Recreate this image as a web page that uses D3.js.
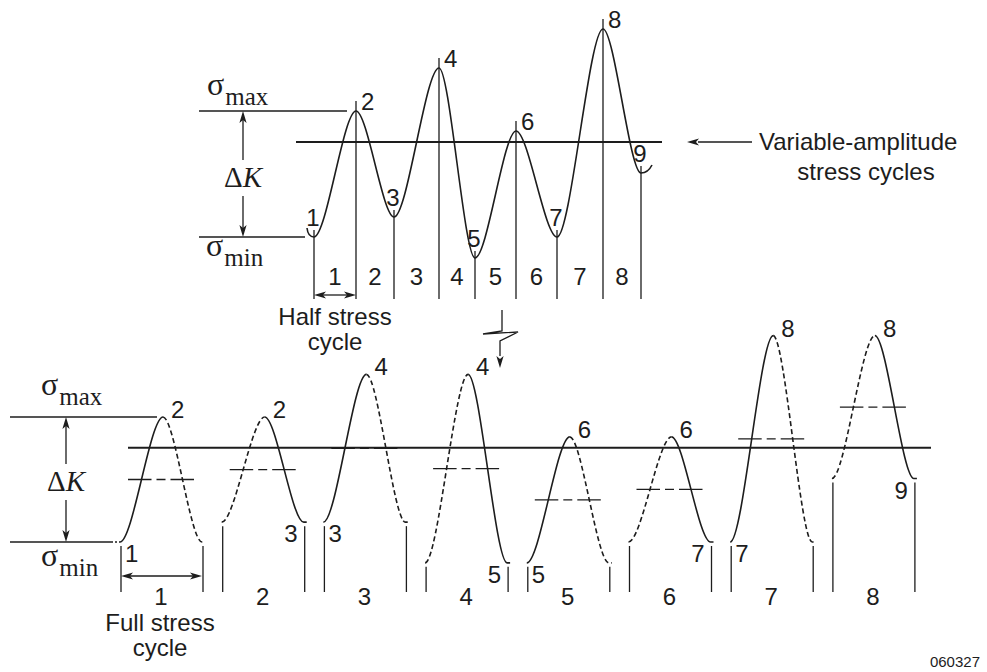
<!DOCTYPE html>
<html><head><meta charset="utf-8">
<script src="https://cdn.jsdelivr.net/npm/d3@7"></script>
<style>html,body{margin:0;padding:0;background:#fff}svg{display:block}</style>
</head><body>
<svg id="chart" width="987" height="672"></svg>
<script>
// ---------------- data ----------------
const pointLabels = ["1","2","3","4","5","6","7","8","9"];
const stressLevels = [100, 226, 120, 269, 79, 206, 100, 308, 164];   // stress at reversal points
const pointTimes = [0, 42, 80, 125, 161, 202, 243, 289, 327];          // time of reversal points
const meanStress = 195;
const sigmaMaxValue = 226;
const sigmaMinValue = 100;
const halfCycleLabels = ["1","2","3","4","5","6","7","8"];
const fullCycleLabels = ["1","2","3","4","5","6","7","8"];

// ---------------- setup ----------------
const svg = d3.select("#chart");
const INK = "#1d1d1d";
const SANS = "'Liberation Sans', Arial, Helvetica, sans-serif";
const SERIF = "'Liberation Serif', 'Times New Roman', Times, serif";
const FS = 24;

const xTop = d3.scaleLinear().domain([0, 327]).range([314, 641]);
const yTop = d3.scaleLinear().domain([sigmaMinValue, sigmaMaxValue]).range([237, 111]);
const yBot = d3.scaleLinear().domain([sigmaMinValue, sigmaMaxValue]).range([542, 417]);
const band = d3.scaleBand().domain(fullCycleLabels).range([120, 933.6]);

function seg(p, x0, y0, x1, y1, k = 0.3) {
  const dx = x1 - x0;
  p.bezierCurveTo(x0 + k * dx, y0, x1 - k * dx, y1, x1, y1);
}
function line(x1, y1, x2, y2, w = 1.3, dash = null) {
  const l = svg.append("line").attr("x1", x1).attr("y1", y1).attr("x2", x2).attr("y2", y2)
    .attr("stroke", INK).attr("stroke-width", w);
  if (dash) l.attr("stroke-dasharray", dash);
  return l;
}
function head(x, y, dir) { // tip at x,y
  const L = 12, H = 3.6;
  const c = Math.cos(dir), s = Math.sin(dir);
  const bx = x - L * c, by = y - L * s;
  const p = d3.path();
  p.moveTo(x, y);
  p.lineTo(bx - H * s, by + H * c);
  p.lineTo(bx + 3 * c, by + 3 * s);
  p.lineTo(bx + H * s, by - H * c);
  p.closePath();
  svg.append("path").attr("d", p.toString()).attr("fill", INK);
}
function text(str, x, y, anchor = "middle", size = FS, fam = SANS) {
  return svg.append("text").attr("x", x).attr("y", y).attr("text-anchor", anchor)
    .attr("font-family", fam).attr("font-size", size).attr("fill", INK).text(str);
}
function text2(lines, x, y, dy, anchor = "middle") {
  const t = svg.append("text").attr("x", x).attr("y", y).attr("text-anchor", anchor)
    .attr("font-family", SANS).attr("font-size", FS).attr("fill", INK);
  lines.forEach((s, i) => t.append("tspan").attr("x", x).attr("dy", i ? dy : 0).text(s));
  return t;
}
function sigma(x, y, sub) {
  const t = svg.append("text").attr("x", x).attr("y", y).attr("font-family", SERIF).attr("fill", INK);
  t.append("tspan").attr("font-size", 32).text("σ");
  t.append("tspan").attr("font-size", 25).attr("dy", 10).attr("dx", 1).text(sub);
}
function deltaK(x, yTopV, yBotV, yText) {
  line(x, yTopV + 8, x, yText - 27, 1.3);
  line(x, yText + 9, x, yBotV - 8, 1.3);
  head(x, yTopV, -Math.PI / 2);
  head(x, yBotV, Math.PI / 2);
  const t = svg.append("text").attr("x", x).attr("y", yText).attr("text-anchor", "middle")
    .attr("font-family", SERIF).attr("font-size", 29).attr("fill", INK);
  t.append("tspan").text("Δ");
  t.append("tspan").attr("font-style", "italic").text("K");
}
function doubleArrow(x1, x2, y) {
  line(x1 + 6, y, x2 - 6, y, 1.3);
  head(x1, y, Math.PI);
  head(x2, y, 0);
}

// ---------------- top panel: variable amplitude ----------------
const X = i => xTop(pointTimes[i]);
const Y = i => yTop(stressLevels[i]);
const lineBottomTop = 299;

line(199, yTop(sigmaMaxValue), X(1) - 9, yTop(sigmaMaxValue));
line(199, yTop(sigmaMinValue), X(0) - 9, yTop(sigmaMinValue));
line(296, yTop(meanStress), 662, yTop(meanStress), 1.9);

pointLabels.forEach((lab, i) => {
  const peak = i % 2 === 1;
  line(X(i), Y(i) - (peak ? 10 : 7), X(i), lineBottomTop, 1.3);
});

{
  const p = d3.path();
  p.moveTo(X(0) - 7, Y(0) - 9);
  p.quadraticCurveTo(X(0) - 6, Y(0), X(0), Y(0));
  for (let i = 1; i < stressLevels.length; i++) seg(p, X(i - 1), Y(i - 1), X(i), Y(i));
  const n = stressLevels.length - 1;
  p.quadraticCurveTo(X(n) + 7, Y(n), X(n) + 11, Y(n) - 8);
  svg.append("path").attr("d", p.toString()).attr("fill", "none").attr("stroke", INK).attr("stroke-width", 1.6);
}

pointLabels.forEach((lab, i) => {
  const peak = i % 2 === 1;
  if (peak) text(lab, X(i) + 5, Y(i) - 1, "start");
  else text(lab, X(i) - 1, Y(i) - 11, "middle");
});
halfCycleLabels.forEach((lab, i) => text(lab, (X(i) + X(i + 1)) / 2, 285));
doubleArrow(X(0), X(1), 295);
text2(["Half stress", "cycle"], (X(0) + X(1)) / 2, 325, 25);

sigma(207, 95, "max");
sigma(206, 256, "min");
deltaK(243, yTop(sigmaMaxValue), yTop(sigmaMinValue), 187);

line(752, yTop(meanStress), 698, yTop(meanStress), 1.3);
head(687, yTop(meanStress), Math.PI);
text("Variable-amplitude", 759, 150, "start");
text("stress cycles", 866, 180);

{
  const p = d3.path();
  p.moveTo(502, 310); p.lineTo(502, 331); p.lineTo(483, 334); p.lineTo(518, 332);
  p.lineTo(500, 341); p.lineTo(500, 356);
  svg.append("path").attr("d", p.toString()).attr("fill", "none").attr("stroke", INK).attr("stroke-width", 1.3);
  head(500, 368, Math.PI / 2);
}

// ---------------- bottom panel: full cycles ----------------
const lineBottomBot = 592;
line(10, yBot(sigmaMaxValue), band("1") + 37, yBot(sigmaMaxValue));
line(10, yBot(sigmaMinValue), 113, yBot(sigmaMinValue));
line(115, yBot(sigmaMinValue), 120, yBot(sigmaMinValue), 1.3, "2,2");
line(128, yBot(meanStress), 931, yBot(meanStress), 1.9);

fullCycleLabels.forEach((lab, c) => {
  const a = stressLevels[c], b = stressLevels[c + 1];
  const hi = Math.max(a, b), lo = Math.min(a, b);
  const rising = b > a;
  const sx = band(lab), px = sx + 43, ex = sx + 82;
  const rise = d3.path(); rise.moveTo(sx, yBot(lo)); seg(rise, sx, yBot(lo), px, yBot(hi));
  const fall = d3.path(); fall.moveTo(px, yBot(hi)); seg(fall, px, yBot(hi), ex, yBot(lo));
  fall.lineTo(ex + 3, yBot(lo));
  const rPath = svg.append("path").attr("d", rise.toString()).attr("fill", "none").attr("stroke", INK).attr("stroke-width", 1.6);
  const fPath = svg.append("path").attr("d", fall.toString()).attr("fill", "none").attr("stroke", INK).attr("stroke-width", 1.6);
  if (rising) fPath.attr("stroke-dasharray", "5,3"); else rPath.attr("stroke-dasharray", "5,3");

  line(sx + 1, yBot(lo) + 4, sx + 1, lineBottomBot, 1.3);
  line(ex + 1, yBot(lo) + 4, ex + 1, lineBottomBot, 1.3);

  const x1 = sx + 8, x2 = ex - 8, L = x2 - x1;
  const longD = (L - 9 - 10) / 2;
  line(x1, yBot((a + b) / 2), x2, yBot((a + b) / 2), 1.4, `${longD},5,9,5,${longD + 20}`);

  const peakLab = pointLabels[rising ? c + 1 : c];
  text(peakLab, px + 8, yBot(hi) + 1, "start");
  if (rising) text(pointLabels[c], sx + 5, yBot(lo) + 20, "start");
  else text(pointLabels[c + 1], ex - 6, yBot(lo) + 20, "end");
  text(lab, sx + 41, 605);
});

doubleArrow(band("1") + 1, band("1") + 82, 576);
text2(["Full stress", "cycle"], band("1") + 40, 631, 25);

sigma(41, 395, "max");
sigma(41, 566, "min");
deltaK(66, yBot(sigmaMaxValue), yBot(sigmaMinValue), 491);

text("060327", 980, 667, "end", 15);
</script>
</body></html>
